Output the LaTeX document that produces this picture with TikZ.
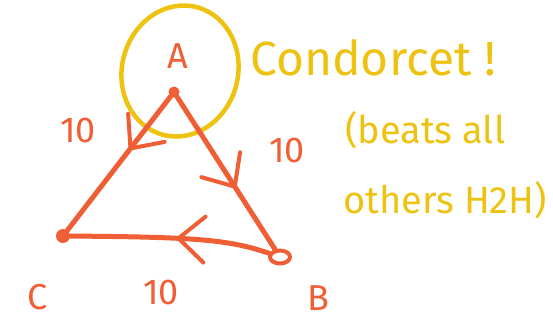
\documentclass[tikz,border=0pt]{standalone}
\usepackage{fontspec}
\setmainfont{Fira Sans}
\usetikzlibrary{decorations.markings,arrows.meta,shapes.geometric}
\definecolor{pen}{HTML}{EF5E35}
\definecolor{hl}{HTML}{EEC210}
\begin{document}
\begin{tikzpicture}[x=1pt,y=-1pt,
  dotf/.style={circle,fill=pen,inner sep=0pt,minimum size=#1},
  edge/.style={draw=pen,line width=5pt,line cap=round,postaction={decorate},
    decoration={markings,mark=at position #1 with {\arrow{Straight Barb[length=26pt,width=46pt,line width=4pt,round]}}}},
  lbl/.style={text=pen,font=\fontsize{36}{38}\selectfont,inner sep=0pt},
  note/.style={text=hl,inner sep=0pt,anchor=west}]
\useasboundingbox (0,0) rectangle (553,327);
% yellow circle around A
\draw[hl,line width=4.5pt,rotate around={-15:(180,71)}] (180,71) ellipse [x radius=58pt,y radius=66pt];
% vertices
\node[dotf=11pt] (A) at (174,92) {};
\node[dotf=14pt] (C) at (63,236) {};
\node[draw=pen,line width=4pt,ellipse,inner sep=0pt,minimum width=20pt,minimum height=13pt] (B) at (280,257) {};
% edges
\draw[edge=0.4] (A) -- (C);
\draw[edge=0.6] (A) -- (B);
\draw[edge=0.47] (B) .. controls (230,240) and (200,237) .. (C);
% letters
\node[lbl] (lA) at (178,56) {A};
\node[lbl] (lC) at (38,297) {C};
\node[lbl] (lB) at (318,298) {B};
% weights
\node[lbl] (wAC) at (78,130) {10};
\node[lbl] (wAB) at (287,150) {10};
\node[lbl] (wBC) at (161,292) {10};
% annotation
\node[note,font=\fontsize{48}{50}\selectfont] (t1) at (250,58) {Condorcet !};
\node[note,font=\fontsize{38}{40}\selectfont] (t2) at (345,130) {(beats all};
\node[note,font=\fontsize{38}{40}\selectfont] (t3) at (343,200) {others H2H)};
\end{tikzpicture}
\end{document}
